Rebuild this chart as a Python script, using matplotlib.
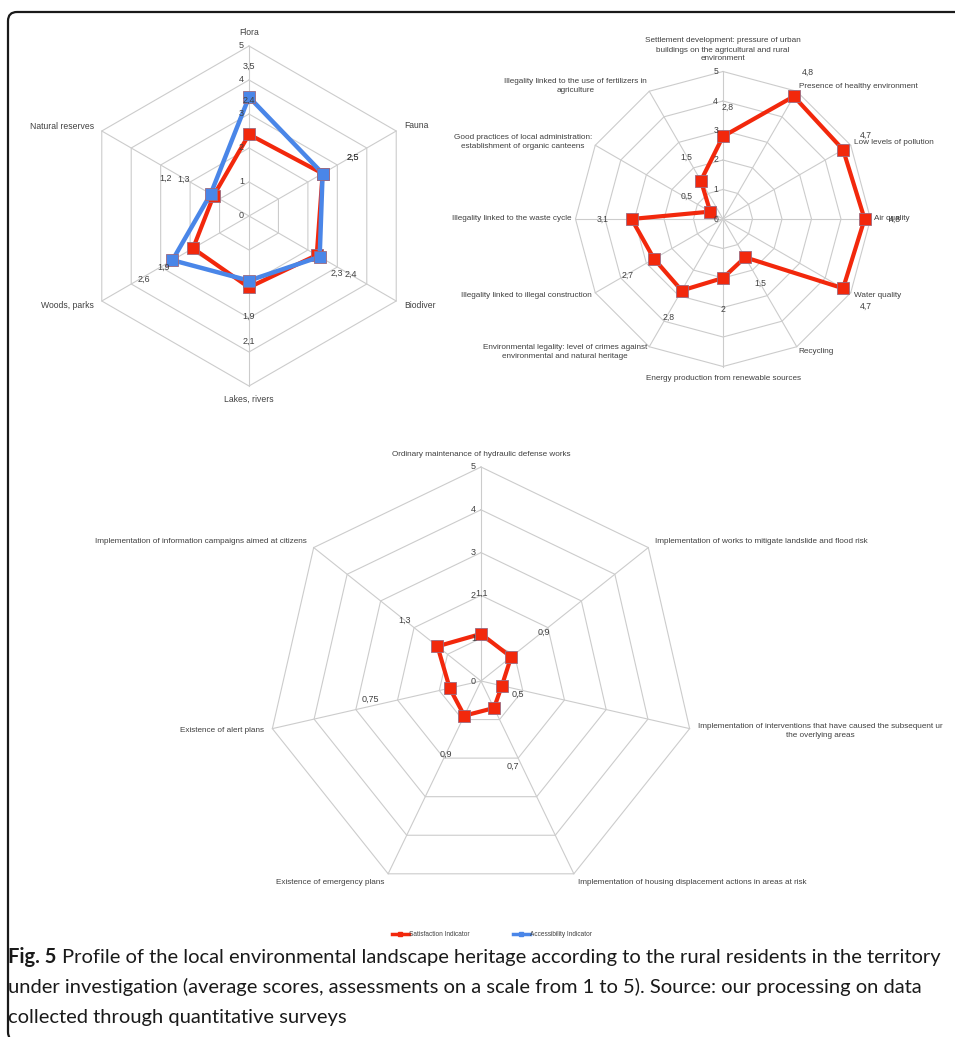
import numpy as np
import matplotlib
matplotlib.use('Agg')
import matplotlib.pyplot as plt
from matplotlib.lines import Line2D
from matplotlib.patches import FancyBboxPatch
from matplotlib.transforms import Affine2D

plt.rcParams['font.family'] = ['Liberation Sans', 'DejaVu Sans']

W, H = 955, 1037

# --- data ---
ticks = [0, 1, 2, 3, 4, 5]

nat_cats = ['Flora', 'Fauna', 'Biodiver', 'Lakes, rivers', 'Woods, parks', 'Natural reserves']
nat_sat = [2.4, 2.5, 2.3, 2.1, 1.9, 1.2]
nat_acc = [3.5, 2.5, 2.4, 1.9, 2.6, 1.3]

env_cats = ['Settlement development: pressure of urban\nbuildings on the agricultural and rural\nenvironment',
            'Presence of healthy environment',
            'Low levels of pollution',
            'Air quality',
            'Water quality',
            'Recycling',
            'Energy production from renewable sources',
            'Environmental legality: level of crimes against\nenvironmental and natural heritage',
            'Illegality linked to illegal construction',
            'Illegality linked to the waste cycle',
            'Good practices of local administration:\nestablishment of organic canteens',
            'Illegality linked to the use of fertilizers in\nagriculture']
env_sat = [2.8, 4.8, 4.7, 4.8, 4.7, 1.5, 2.0, 2.8, 2.7, 3.1, 0.5, 1.5]

risk_cats = ['Ordinary maintenance of hydraulic defense works',
             'Implementation of works to mitigate landslide and flood risk',
             'Implementation of interventions that have caused the subsequent ur\nthe overlying areas',
             'Implementation of housing displacement actions in areas at risk',
             'Existence of emergency plans',
             'Existence of alert plans',
             'Implementation of information campaigns aimed at citizens']
risk_sat = [1.1, 0.9, 0.5, 0.7, 0.9, 0.75, 1.3]

legend_labels = ['Satisfaction Indicator', 'Accessibility Indicator']

# where the value labels sit, relative to their point (pixels)
nat_sat_off = [(0, 34), (30, 16), (20, -18), (0, -54), (-29, -19), (-48, 17)]
nat_acc_off = [(0, 31), (30, 16), (31, -18), (0, -36), (-29, -19), (-27, 15)]
env_sat_off = [(5, 29), (14, 24), (23, 14), (30, 0), (23, -18), (15, -26),
               (0, -31), (-13, -27), (-26, -16), (-29, 0), (-24, 15), (-15, 23)]
risk_sat_off = [(1, 41), (33, 25), (16, -9), (19, -58), (-18, -39), (-79, -11), (-33, 26)]

red = '#f2280c'
blue = '#4a86e8'
grid_c = '#cccccc'
txt_c = '#404040'


def fmt(v):
    return ('%g' % v).replace('.', ',')


fig = plt.figure(figsize=(W / 100, H / 100), dpi=100)
px = Affine2D().scale(1 / W, 1 / H) + fig.transFigure


def radar(cx, cy, R, cats, series, pad, cat_size, num_size):
    n = len(cats)
    ang = np.linspace(0, 2 * np.pi, n, endpoint=False)
    ax = fig.add_axes([(cx - R) / W, (H - cy - R) / H, 2 * R / W, 2 * R / H], projection='polar')
    ax.set_theta_zero_location('N')
    ax.set_theta_direction(-1)
    ax.set_ylim(0, 5)
    ax.set_xticks([])
    ax.set_yticks([])
    ax.grid(False)
    ax.spines['polar'].set_visible(False)
    ax.patch.set_visible(False)

    ring = np.append(ang, ang[0])
    for r in ticks[1:]:
        ax.plot(ring, [r] * (n + 1), color=grid_c, lw=0.8, zorder=1, clip_on=False)
    for a in ang:
        ax.plot([a, a], [0, 5], color=grid_c, lw=0.8, zorder=1, clip_on=False)
    for t in ticks:
        ax.annotate(str(t), (0, t), xytext=(-5, 0), textcoords='offset pixels',
                    ha='right', va='center', fontsize=num_size, color=txt_c,
                    annotation_clip=False, zorder=6)

    for a, c in zip(ang, cats):
        s, co = np.sin(a), np.cos(a)
        if abs(s) < 0.1:
            ha = 'center'
            va = 'bottom' if co > 0 else 'top'
            off = (0, 9 * np.sign(co))
        else:
            ha = 'left' if s > 0 else 'right'
            va = 'center'
            off = (pad[0] * s, pad[1] * co)
        ax.annotate(c, (a, 5), xytext=off, textcoords='offset pixels', ha=ha, va=va,
                    multialignment='center', linespacing=1.4, fontsize=cat_size,
                    color=txt_c, annotation_clip=False)

    lines = []
    for vals, col, lw, offs in series:
        ln, = ax.plot(ring, list(vals) + [vals[0]], color=col, lw=lw, marker='s', ms=8,
                      markevery=list(range(n)), mec='#9c6a80', mew=0.6, zorder=4,
                      clip_on=False)
        lines.append(ln)
        for a, v, o in zip(ang, vals, offs):
            ax.annotate(fmt(v), (a, v), xytext=o, textcoords='offset pixels',
                        ha='center', va='center', fontsize=num_size, color=txt_c,
                        annotation_clip=False, zorder=6)
    return ax


radar(249, 216, 170, nat_cats,
      [(nat_sat, red, 3.0, nat_sat_off), (nat_acc, blue, 3.2, nat_acc_off)],
      (9, 10), 6.2, 6.5)
radar(723, 219, 147.5, env_cats, [(env_sat, red, 3.0, env_sat_off)], (4, 6), 5.9, 6.2)
radar(481, 681, 214, risk_cats, [(risk_sat, red, 3.0, risk_sat_off)], (9, 10), 5.9, 6.5)

# legend
handles = [Line2D([], [], color=red, lw=2.5, marker='s', ms=3.5),
           Line2D([], [], color=blue, lw=2.5, marker='s', ms=3.5)]
fig.legend(handles, legend_labels, loc='center', bbox_to_anchor=(492 / W, 1 - 935 / H),
           ncol=2, frameon=False, fontsize=4.7, handlelength=2.6, handletextpad=0.1,
           columnspacing=6.5, labelcolor=txt_c)

# frame
frame = FancyBboxPatch((8, -4), 1100, H - 12 + 4, boxstyle='round,pad=0,rounding_size=9',
                       transform=px, fill=False, ec='#1a1a1a', lw=1.6, clip_on=False)
fig.patches.append(frame)

# caption
cap1 = 'Profile of the local environmental landscape heritage according to the rural residents in the territory'
cap2 = 'under investigation (average scores, assessments on a scale from 1 to 5). Source: our processing on data'
cap3 = 'collected through quantitative surveys'
cap_font = ['Lato', 'DejaVu Sans']
r = fig.canvas.get_renderer()
probe = fig.text(0, 0, 'Fig. 5 ' + cap1, fontsize=10, family=cap_font)
wd = probe.get_window_extent(r).width
probe.remove()
cs = 10 * 932 / wd

fig_lbl = fig.text(8 / W, 1 - 957 / H, 'Fig. 5', fontsize=cs, weight='bold', family=cap_font,
                   va='center', color='#1a1a1a')
bw = fig_lbl.get_window_extent(r).width
sp = fig.text(0, 0, 'a a', fontsize=cs, family=cap_font)
sw = sp.get_window_extent(r).width
sp.remove()
sp = fig.text(0, 0, 'aa', fontsize=cs, family=cap_font)
sw -= sp.get_window_extent(r).width
sp.remove()
fig.text((8 + bw + sw) / W, 1 - 957 / H, cap1, fontsize=cs, family=cap_font, va='center', color='#1a1a1a')
fig.text(8 / W, 1 - 987 / H, cap2, fontsize=cs, family=cap_font, va='center', color='#1a1a1a')
fig.text(8 / W, 1 - 1017 / H, cap3, fontsize=cs, family=cap_font, va='center', color='#1a1a1a')

fig.savefig('out.png', dpi=100)
